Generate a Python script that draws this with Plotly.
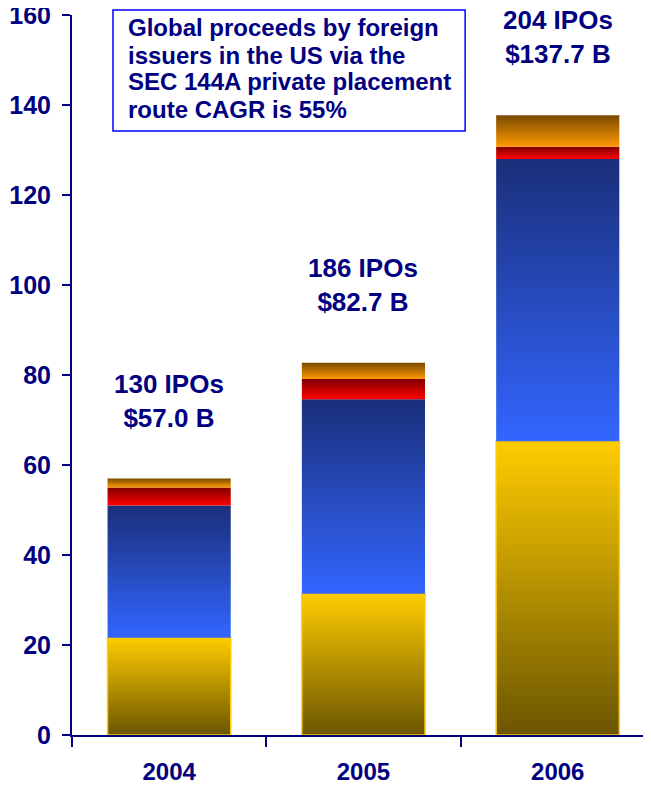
import plotly.graph_objects as go

# ---- data ----
years = ["2004", "2005", "2006"]
ipo_counts = [130, 186, 204]
totals = [57.0, 82.7, 137.7]
seg_yellow = [21.6, 31.4, 65.3]
seg_blue = [29.4, 43.2, 62.7]
seg_red = [4.0, 4.5, 2.7]
seg_orange = [2.0, 3.6, 7.0]
y_ticks = [0, 20, 40, 60, 80, 100, 120, 140, 160]
box_lines = ["Global proceeds by foreign",
             "issuers in the US via the",
             "SEC 144A private placement",
             "route CAGR is 55%"]

NAVY = "#000080"
FONT = "Liberation Sans, Arial, sans-serif"
BAR_W = 0.634

segments = [
    ("yellow", seg_yellow, "#6b5500", "#ffcc00", "#ffcc00", 1.5),
    ("blue", seg_blue, "#3366ff", "#1a2f7a", "rgba(0,0,0,0)", 0),
    ("red", seg_red, "#ff0000", "#800000", "rgba(0,0,0,0)", 0),
    ("orange", seg_orange, "#ff9900", "#7a4a00", "rgba(0,0,0,0)", 0),
]

fig = go.Figure()
base = [0.0] * len(years)
for name, vals, c_bot, c_top, lc, lw in segments:
    for i, v in enumerate(vals):
        b0 = base[i]
        b1 = b0 + v
        x0, x1 = i - BAR_W / 2, i + BAR_W / 2
        fig.add_trace(go.Scatter(
            x=[x0, x1, x1, x0, x0],
            y=[b0, b0, b1, b1, b0],
            mode="lines",
            fill="toself",
            line=dict(color=lc, width=lw),
            fillgradient=dict(type="vertical",
                              colorscale=[[0, c_bot], [1, c_top]],
                              start=b0, stop=b1),
            name=f"{name} {years[i]}",
            showlegend=False,
            hoverinfo="skip",
        ))
        base[i] = b1

# labels above bars
for i, (n, t) in enumerate(zip(ipo_counts, totals)):
    fig.add_annotation(
        x=i, y=t, xref="x", yref="y",
        text=f"<b>{n} IPOs<br>${t:.1f} B</b>",
        showarrow=False, yanchor="middle", xanchor="center", yshift=78,
        font=dict(family=FONT, size=26, color=NAVY),
    )

# text box
fig.add_shape(type="rect", xref="paper", yref="paper",
              x0=0.0708, x1=0.679, y0=0.839, y1=1.007,
              line=dict(color="#0000ff", width=1.5), fillcolor="white",
              layer="above")
line_ys = [0.982, 0.944, 0.907, 0.869]
for txt, yy in zip(box_lines, line_ys):
    fig.add_annotation(
        x=0.093, y=yy, xref="paper", yref="paper",
        text=f"<b>{txt}</b>", showarrow=False,
        xanchor="left", yanchor="middle",
        font=dict(family=FONT, size=24, color=NAVY),
    )

fig.update_layout(
    width=643, height=778,
    margin=dict(l=64, r=0, t=7, b=51, autoexpand=False),
    plot_bgcolor="white", paper_bgcolor="white",
    showlegend=False,
    font=dict(family=FONT, color=NAVY),
)
fig.update_xaxes(
    range=[-0.5, 2.48], automargin=False,
    tickmode="array", tickvals=[0, 1, 2], ticktext=[f"<b>{y}</b>" for y in years],
    ticks="", ticklabelstandoff=14,
    tickfont=dict(family=FONT, size=24, color=NAVY),
    showline=True, linecolor=NAVY, linewidth=2,
    showgrid=False, zeroline=False,
    minor=dict(tickmode="array", tickvals=[-0.5, 0.5, 1.5],
               ticks="outside", ticklen=10, tickwidth=2, tickcolor=NAVY),
    fixedrange=True,
)
fig.update_yaxes(
    range=[0, 160], automargin=False,
    tickmode="array", tickvals=y_ticks, ticktext=[f"<b>{v}</b>" for v in y_ticks],
    ticks="outside", ticklen=8, tickwidth=2, tickcolor=NAVY,
    ticklabelstandoff=6, ticklabeloverflow="allow",
    tickfont=dict(family=FONT, size=25, color=NAVY),
    showline=True, linecolor=NAVY, linewidth=2,
    showgrid=False, zeroline=False,
    fixedrange=True,
)

fig.write_html("out.html")
